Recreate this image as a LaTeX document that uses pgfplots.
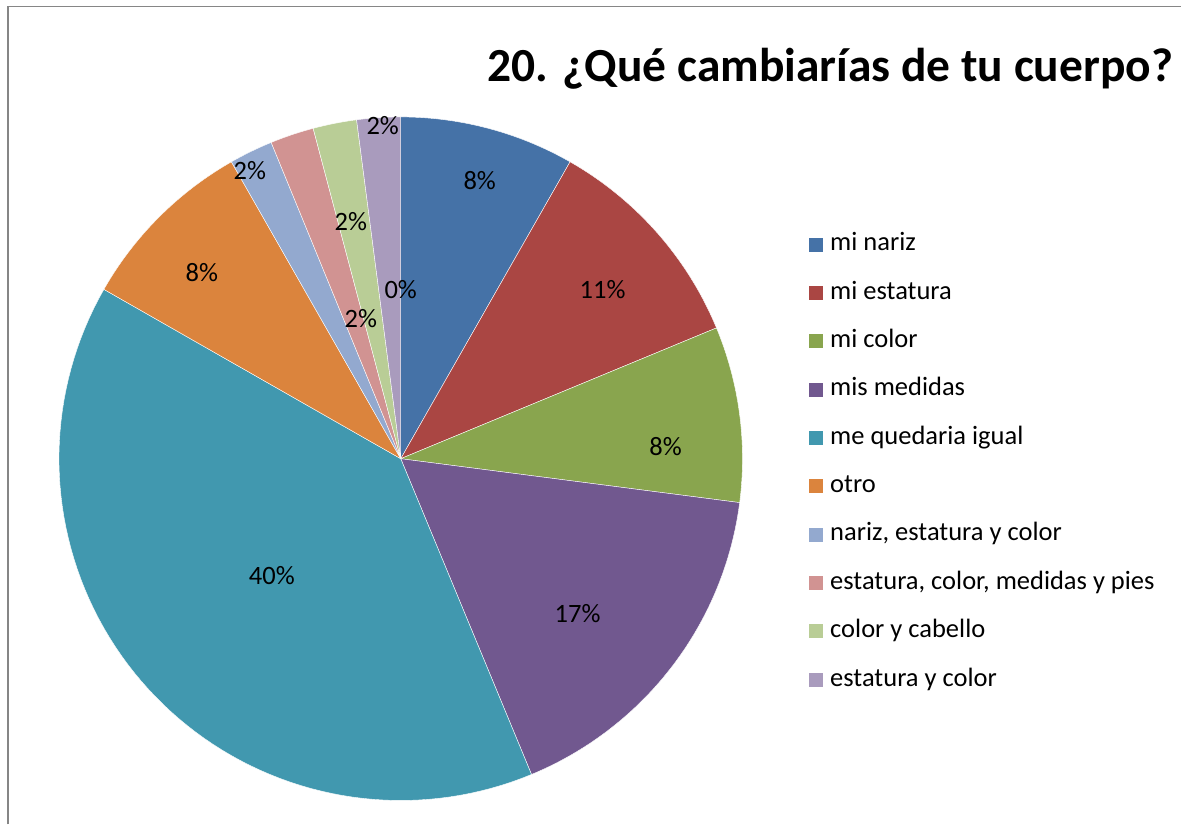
\documentclass[border=0pt]{standalone}
\usepackage{pgfplots}
\pgfplotsset{compat=1.18}
\usepackage{pgfplotstable}
\usepackage{fontspec}
\setmainfont{Carlito}
\definecolor{c0}{HTML}{4572A7}
\definecolor{c1}{HTML}{AA4643}
\definecolor{c2}{HTML}{89A54E}
\definecolor{c3}{HTML}{71588F}
\definecolor{c4}{HTML}{4198AF}
\definecolor{c5}{HTML}{DB843D}
\definecolor{c6}{HTML}{93A9CF}
\definecolor{c7}{HTML}{D19392}
\definecolor{c8}{HTML}{B9CD96}
\definecolor{c9}{HTML}{A99BBD}
\definecolor{frame}{HTML}{868686}

\pgfplotstableread[col sep=semicolon,row sep=\\]{
value;label\\
8.25;mi nariz\\
10.5;mi estatura\\
8.3;mi color\\
16.7;mis medidas\\
39.5;me quedaria igual\\
8.5;otro\\
2.0625;nariz, estatura y color\\
2.0625;estatura, color, medidas y pies\\
2.0625;color y cabello\\
2.0625;estatura y color\\
}\piedata

\newcommand{\lblfont}{\fontsize{13.25}{16}\selectfont}

\begin{document}
\begin{tikzpicture}
\begin{axis}[
  width=591pt, height=412.5pt, scale only axis,
  xmin=0, xmax=1182, ymin=0, ymax=825, y dir=reverse,
  hide axis, clip=false,
  legend style={at={(axis cs:808,232.5)}, anchor=north west, draw=none, fill=none,
    inner sep=0pt, row sep=12.7pt, column sep=3.5pt, font=\lblfont,
    nodes={inner sep=0pt, text height=9pt, text depth=2.5pt},
    cells={anchor=west}},
  legend image code/.code={\fill[#1] (0pt,-3.75pt) rectangle (7.5pt,3.75pt);},
]
\path (0,0) rectangle (1182,825);
\draw[frame, line width=0.8pt] (8,825) -- (8,6.5) -- (1182,6.5);

\def\cum{0}
\pgfplotsforeachungrouped \i in {0,...,9}{
  \pgfplotstablegetelem{\i}{value}\of\piedata
  \let\v\pgfplotsretval
  \pgfplotstablegetelem{\i}{label}\of\piedata
  \let\lab\pgfplotsretval
  \pgfmathsetmacro\a{90-\cum*3.6}
  \pgfmathsetmacro\b{90-(\cum+\v)*3.6}
  \pgfmathsetmacro\cum{\cum+\v}
  \edef\cmd{\noexpand\addplot[fill=c\i, draw=white, line width=0.2pt, domain=\b:\a, samples=80]
     ({401+342*cos(x)},{459-342*sin(x)}) -- (401,459) -- cycle;
     \noexpand\addlegendentry{\lab}}
  \cmd
}

\node[font=\bfseries\fontsize{23.75}{28}\selectfont, anchor=base] at (831,82) {20. ¿Qué cambiarías de tu cuerpo?};

\node[font=\lblfont] at (480,181) {8\%};
\node[font=\lblfont] at (603,290) {11\%};
\node[font=\lblfont] at (666,447) {8\%};
\node[font=\lblfont] at (578,614) {17\%};
\node[font=\lblfont] at (272,576) {40\%};
\node[font=\lblfont] at (202,273) {8\%};
\node[font=\lblfont] at (250,171) {2\%};
\node[font=\lblfont] at (361,319) {2\%};
\node[font=\lblfont] at (351,222) {2\%};
\node[font=\lblfont] at (383,126) {2\%};
\node[font=\lblfont] at (401,290) {0\%};
\end{axis}
\end{tikzpicture}
\end{document}
